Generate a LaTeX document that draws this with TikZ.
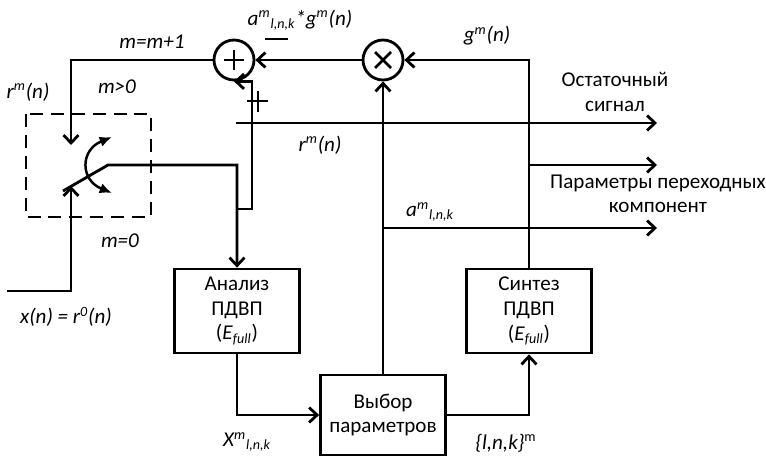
\documentclass[tikz,border=0pt]{standalone}
\usepackage{fontspec}
\setmainfont{Carlito}
\usetikzlibrary{positioning,arrows.meta}

\begin{document}
\begin{tikzpicture}[x=0.02cm, y=-0.02cm, line width=1.6pt,
        font=\fontsize{12}{14}\selectfont,
        blk/.style={draw, rectangle, minimum width=2.5cm, minimum height=1.68cm,
                    align=center, inner sep=0pt},
        junc/.style={draw, circle, minimum size=0.8cm, inner sep=0pt},
        lbl/.style={font=\fontsize{12}{14}\selectfont\itshape, inner sep=1pt},
        arr/.style={-{Straight Barb[length=4.5pt,width=8.5pt]}}]
      \useasboundingbox (0,0) rectangle (766,459);
      % blocks
      \node[junc] (sum)  at (234,60)  {};
      \node[junc] (mult) at (383,60)  {};
      \node[blk]  (anal) at (237,311) {Анализ\\ПДВП\\(\textit{E}\textsubscript{\textit{full}})};
      \node[blk]  (synth) at (529,311) {Синтез\\ПДВП\\(\textit{E}\textsubscript{\textit{full}})};
      \node[blk, minimum height=1.6cm] (sel) at (383,415) {Выбор\\параметров};
      \draw (sum.center) +(-10,0) -- +(10,0) (sum.center) +(0,-10) -- +(0,10);
      \draw (mult.center) +(-8,-8) -- +(8,8) (mult.center) +(-8,8) -- +(8,-8);
      % switch
      \draw[dash pattern=on 7.4pt off 4.5pt] (26,114) rectangle (151,217);
      \coordinate (swtop) at (71,145);
      \coordinate (xin)   at (7,291);
      \coordinate (swin)  at (71,186);
      \coordinate (piv)   at (63,191);
      \coordinate (lev)   at (108,165);
      \draw[{Latex[length=7pt,width=6pt]}-{Latex[length=7pt,width=6pt]}, line width=1.4pt]
            (112,137) .. controls (80,150) and (80,180) .. (112,193);
      % signal points
      \coordinate (fb)   at (237,209);
      \coordinate (fbr)  at (252,209);
      \coordinate (rin)  at (236,123);
      \coordinate (rout) at (657,123);
      \coordinate (pin)  at (529,165);
      \coordinate (pout) at (657,165);
      \coordinate (ain)  at (383,228);
      \coordinate (aout) at (657,228);
      % connections
      \draw[arr] (mult) -- (sum);
      \draw[arr] (synth.north) |- (mult.east);
      \draw[arr] (sum.west) -| (swtop);
      \draw[arr] (xin) -| (swin);
      \draw[arr] (piv) -- (lev) -| (anal.north);
      \draw[arr] (fb) -- (fbr) |- (sum.south);
      \draw[arr] (rin) -- (rout);
      \draw[arr] (pin) -- (pout);
      \draw[arr] (ain) -- (aout);
      \draw[arr] (sel) -- (mult);
      \draw[arr] (anal.south) |- (sel.west);
      \draw[arr] (sel.east) -| (synth.south);
      \draw (247,101) -- (268,101) (258,91) -- (258,112);
      \draw (265,39) -- (288,39);
      % labels
      \node[lbl] (mstep) at (152,42)  {m=m+1};
      \node[lbl] (aglab) at (300,20)  {a\textsuperscript{m}\textsubscript{l,n,k}*g\textsuperscript{m}(n)};
      \node[lbl] (glab)  at (487,36)  {g\textsuperscript{m}(n)};
      \node[lbl] (rlabl) at (28,92)   {r\textsuperscript{m}(n)};
      \node[lbl] (mpos)  at (117,87)  {m>0};
      \node[lbl] (rlabm) at (320,145) {r\textsuperscript{m}(n)};
      \node[lbl] (mzero) at (120,241) {m=0};
      \node[lbl] (xlab)  at (66,317)  {x(n) = r\textsuperscript{0}(n)};
      \node[lbl] (Xlab)  at (247,442) {X\textsuperscript{m}\textsubscript{l,n,k}};
      \node[lbl] (lnk)   at (506,443) {\{l,n,k\}\textsuperscript{\upshape m}};
      \node[lbl] (alab)  at (430,212) {a\textsuperscript{m}\textsubscript{l,n,k}};
      \node[align=center] (reslab) at (615,92)  {Остаточный\\сигнал};
      \node[align=center] (parlab) at (658,194) {Параметры переходных\\компонент};
\end{tikzpicture}
\end{document}
